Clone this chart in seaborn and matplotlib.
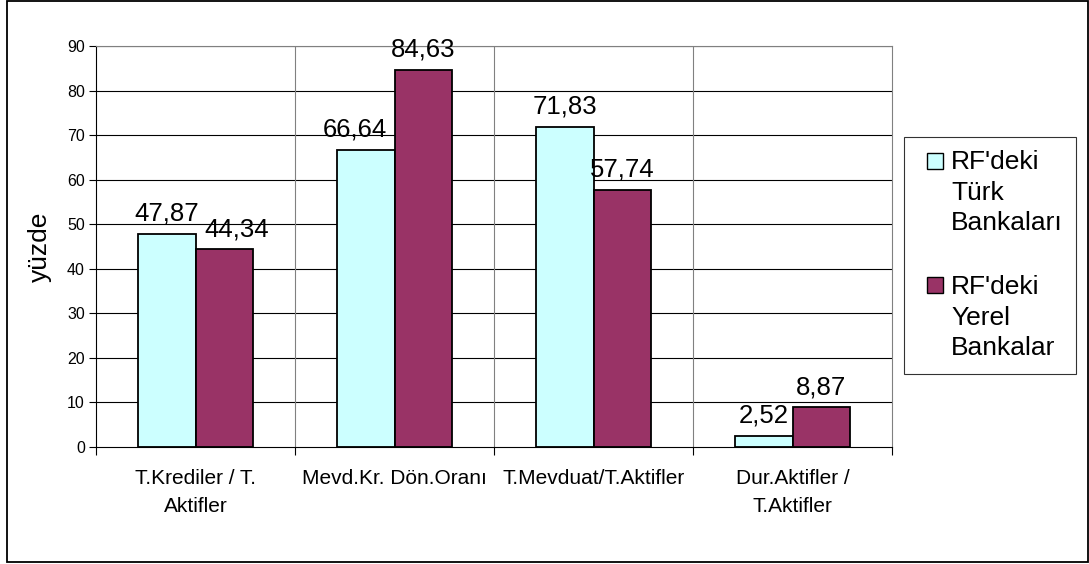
import matplotlib
matplotlib.use("Agg")
import matplotlib.pyplot as plt
from matplotlib.patches import Rectangle, Patch
from matplotlib.legend_handler import HandlerPatch
import seaborn as sns
import pandas as pd

categories = ["T.Krediler / T.\nAktifler", "Mevd.Kr. Dön.Oranı",
              "T.Mevduat/T.Aktifler", "Dur.Aktifler /\nT.Aktifler"]
series_names = ["RF'deki\nTürk\nBankaları", "RF'deki\nYerel\nBankalar"]
turk_values = [47.87, 66.64, 71.83, 2.52]
yerel_values = [44.34, 84.63, 57.74, 8.87]
colors = ["#CCFFFF", "#993366"]
y_ticks = list(range(0, 100, 10))

df = pd.DataFrame({
    "kategori": categories * 2,
    "seri": [series_names[0]] * 4 + [series_names[1]] * 4,
    "deger": turk_values + yerel_values,
})

sns.set_theme(style="white")
plt.rcParams["font.family"] = ["Liberation Sans", "DejaVu Sans"]
plt.rcParams["text.color"] = "black"
plt.rcParams["xtick.color"] = "black"
plt.rcParams["ytick.color"] = "black"
plt.rcParams["axes.labelcolor"] = "black"

fig = plt.figure(figsize=(10.89, 5.64), dpi=100)
ax = fig.add_axes([96 / 1089, 1 - 447 / 564, (892 - 96) / 1089, (447 - 46) / 564])

sns.barplot(data=df, x="kategori", y="deger", hue="seri", palette=colors,
            width=0.58, edgecolor="black", linewidth=1.3, ax=ax,
            legend=False, saturation=1)

ax.set_ylim(0, 90)
ax.set_xlim(-0.5, 3.5)
ax.set_yticks(y_ticks)
ax.set_yticklabels([str(t) for t in y_ticks], fontsize=11.5)
ax.tick_params(axis="y", length=5, width=0.8, color="black", direction="out", left=True, pad=3)
ax.set_xticks([-0.5, 0.5, 1.5, 2.5, 3.5], minor=True)
ax.tick_params(axis="x", which="minor", length=6, width=0.8, color="black", direction="out", bottom=True)
ax.tick_params(axis="x", which="major", length=0, labelsize=15, pad=15.5)
for lbl in ax.get_xticklabels():
    lbl.set_linespacing(1.62)
ax.set_xlabel("")
ax.set_ylabel("yüzde", fontsize=19, labelpad=11)

ax.set_axisbelow(True)
ax.grid(False)
for t in y_ticks[1:]:
    ax.axhline(t, color="black", linewidth=0.8, zorder=0)
for xb in [0.5, 1.5, 2.5]:
    ax.axvline(xb, color="#808080", linewidth=0.8, zorder=0)

for side in ["top", "right"]:
    ax.spines[side].set_color("#808080")
    ax.spines[side].set_linewidth(0.8)
for side in ["left", "bottom"]:
    ax.spines[side].set_color("black")
    ax.spines[side].set_linewidth(0.8)

value_texts = []
for cont in ax.containers:
    value_texts.append(ax.bar_label(
        cont, labels=[f"{v:.2f}".replace(".", ",") for v in cont.datavalues],
        padding=6, fontsize=18.5))
# keep neighbouring labels clear of each other and of the taller bar
value_texts[1][0].xyann = (9, 6)
value_texts[0][1].xyann = (-8, 6)

legend_fs = 19
legend_ls = 1.35
square = 11.5


def top_line_square(legend, orig_handle, xdescent, ydescent, width, height, fontsize):
    # swatch sits beside the first line of the three-line label
    pitch = 0.93 * fontsize * legend_ls
    return Rectangle((-xdescent + width - square, pitch + 0.5), square, square)


handles = [Patch(facecolor=c, edgecolor="black", linewidth=1) for c in colors]
leg = fig.legend(handles, series_names, loc="upper left",
                 bbox_to_anchor=(904 / 1089, 1 - 137 / 564), bbox_transform=fig.transFigure,
                 fontsize=legend_fs, frameon=True, fancybox=False, handlelength=0.985,
                 handleheight=0.6, handletextpad=0.3, labelspacing=1.5,
                 borderpad=0.5, borderaxespad=0,
                 handler_map={Patch: HandlerPatch(patch_func=top_line_square)})
leg.get_frame().set_edgecolor("black")
leg.get_frame().set_linewidth(0.8)
for txt in leg.get_texts():
    txt.set_linespacing(legend_ls)

fig.patches.append(Rectangle((7 / 1089, 1 - 562 / 564), 1081 / 1089, 561 / 564,
                             transform=fig.transFigure, fill=False,
                             edgecolor="black", linewidth=1.3))

fig.savefig("out.png", dpi=100, facecolor="white")
